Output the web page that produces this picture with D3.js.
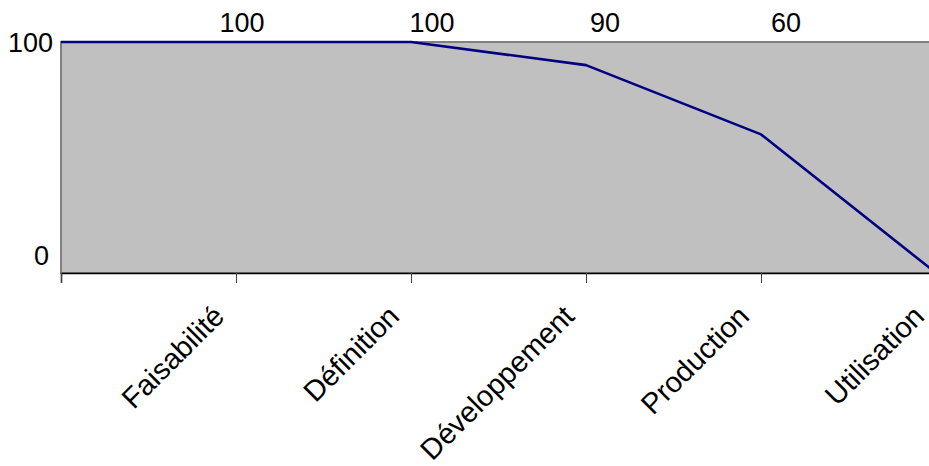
<!DOCTYPE html>
<html>
<head>
<meta charset="utf-8">
<script src="https://cdn.jsdelivr.net/npm/d3@7"></script>
<style>
  html, body { margin: 0; padding: 0; background: #ffffff; }
  svg { display: block; font-family: "Liberation Sans", Arial, sans-serif; }
</style>
</head>
<body>
<svg id="chart" width="929" height="466"></svg>
<script>
// Milestones along the project life cycle (index 0 = start of feasibility)
const milestones = [0, 1, 2, 3, 4, 5];
// Remaining value at each milestone
const values = [100, 100, 100, 90, 60, 0];
// Phase names, each written at the milestone that closes the phase
const phases = ["Faisabilité", "Définition", "Développement", "Production", "Utilisation"];
// Values written above the plot, one per closing milestone of the first four phases
const valueLabels = [100, 100, 90, 60];
// Y axis tick values
const yTicks = [0, 100];

const svg = d3.select("#chart");

const plot = { left: 61, right: 936, top: 42, bottom: 273 };

const x = d3.scaleLinear()
  .domain([milestones[0], milestones[milestones.length - 1]])
  .range([plot.left, plot.right]);

const y = d3.scaleLinear()
  .domain([0, 100])
  .range([plot.bottom, plot.top]);

// Plot background with its grey frame
svg.append("rect")
  .attr("x", plot.left)
  .attr("y", plot.top)
  .attr("width", plot.right - plot.left)
  .attr("height", plot.bottom - plot.top)
  .attr("fill", "#c0c0c0")
  .attr("stroke", "#808080")
  .attr("stroke-width", 2);

// Category axis along the bottom
const xAxis = d3.axisBottom(x)
  .tickValues(milestones)
  .tickSize(10)
  .tickFormat("");

const gx = svg.append("g")
  .attr("transform", `translate(0,${plot.bottom})`)
  .call(xAxis);
gx.select(".domain").attr("stroke", "#000000").attr("stroke-width", 1.5);
gx.selectAll(".tick line").attr("stroke", "#404040").attr("stroke-width", 1);

// Phase names, rotated, ending just before their closing tick
svg.append("g")
  .selectAll("text")
  .data(phases)
  .join("text")
  .attr("transform", (d, i) => `translate(${x(milestones[i + 1]) - 10},${plot.bottom + 45}) rotate(-45)`)
  .attr("text-anchor", "end")
  .attr("font-size", 29)
  .attr("fill", "#000000")
  .text(d => d);

// Y axis labels
const yLabelShift = { 0: { dx: -4, dy: -8 }, 100: { dx: 0, dy: 10 } };
svg.append("g")
  .selectAll("text")
  .data(yTicks)
  .join("text")
  .attr("x", d => plot.left - 8 + yLabelShift[d].dx)
  .attr("y", d => y(d) + yLabelShift[d].dy)
  .attr("text-anchor", "end")
  .attr("font-size", 27)
  .attr("fill", "#000000")
  .text(d => d);

// Value curve
const line = d3.line()
  .x((d, i) => x(milestones[i]))
  .y(d => y(d));

svg.append("path")
  .datum(values)
  .attr("d", line)
  .attr("fill", "none")
  .attr("stroke", "#000080")
  .attr("stroke-width", 2.6)
  .attr("stroke-linejoin", "round");

// Values written above the plot
const labelNudge = [6, 21, 19, 25];
svg.append("g")
  .selectAll("text")
  .data(valueLabels)
  .join("text")
  .attr("x", (d, i) => x(milestones[i + 1]) + labelNudge[i])
  .attr("y", 32)
  .attr("text-anchor", "middle")
  .attr("font-size", 27)
  .attr("fill", "#000000")
  .text(d => d);
</script>
</body>
</html>
